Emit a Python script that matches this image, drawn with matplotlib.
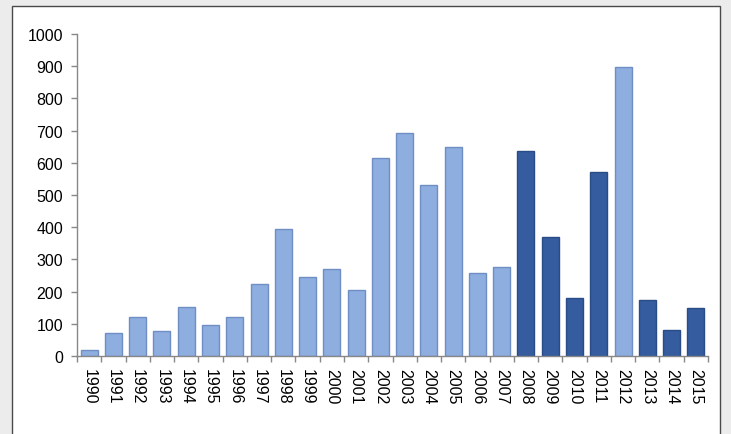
import matplotlib
matplotlib.use("Agg")
import matplotlib.pyplot as plt
import numpy as np
from matplotlib.patches import Rectangle

years = [str(y) for y in range(1990, 2016)]
values = [18, 71, 121, 78, 152, 96, 121, 224, 394, 245, 270, 205, 615, 692,
          531, 649, 258, 276, 637, 370, 180, 571, 897, 174, 81, 149]
dark_years = ["2008", "2009", "2010", "2011", "2013", "2014", "2015"]

light_fill, light_edge = "#8eaee0", "#6f8fc4"
dark_fill, dark_edge = "#345c9f", "#2a4c86"

plt.rcParams["font.family"] = ["Liberation Sans", "DejaVu Sans"]

fig = plt.figure(figsize=(7.31, 4.35), dpi=100)
fig.patch.set_facecolor("#ececec")

# white framed panel behind the chart
bg = fig.add_axes([0, 0, 1, 1], zorder=-1)
bg.set_axis_off()
bg.set_xlim(0, 731)
bg.set_ylim(435, 0)
bg.add_patch(Rectangle((12, 7), 720 - 12, 460, facecolor="white",
                       edgecolor="#4a4a4a", linewidth=1.0))

ax = fig.add_axes([77 / 731, 1 - 357 / 435, (708 - 77) / 731, (357 - 35) / 435])
ax.set_facecolor("none")

x = np.arange(len(years))
fills = [dark_fill if y in dark_years else light_fill for y in years]
edges = [dark_edge if y in dark_years else light_edge for y in years]
ax.bar(x, values, width=0.7, color=fills, edgecolor=edges, linewidth=1.0, zorder=2)

ax.set_xlim(-0.5, len(years) - 0.5)
ax.set_ylim(0, 1000)
ax.set_yticks(range(0, 1001, 100))
ax.set_xticks(x)
ax.set_xticklabels(years, rotation=-90, fontsize=11.5)
ax.set_xticks(np.arange(-0.5, len(years), 1.0), minor=True)
ax.tick_params(axis="x", which="major", length=0, pad=9)
ax.tick_params(axis="x", which="minor", length=4, color="#888888", width=1)
ax.tick_params(axis="y", length=4, color="#888888", width=1, labelsize=11.5, pad=6)

for side in ("top", "right"):
    ax.spines[side].set_visible(False)
for side in ("left", "bottom"):
    ax.spines[side].set_color("#888888")
    ax.spines[side].set_linewidth(1.0)

fig.savefig("out.png", dpi=100, facecolor=fig.get_facecolor())
